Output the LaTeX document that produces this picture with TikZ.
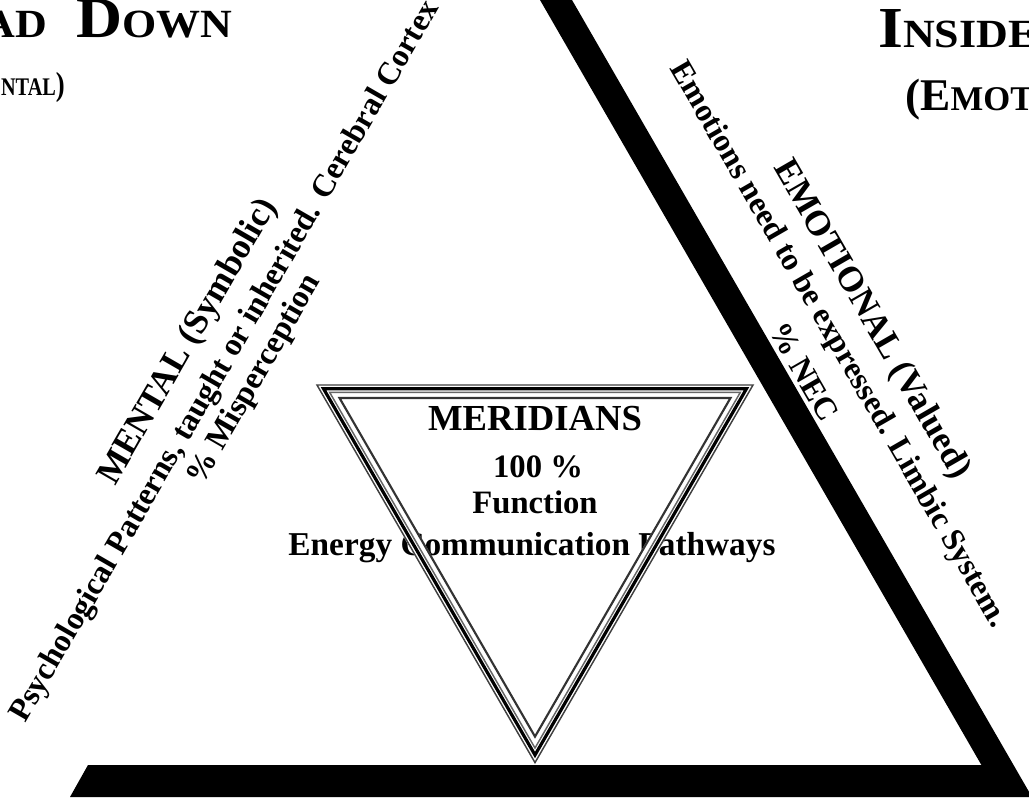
\documentclass[tikz,border=0pt]{standalone}
\usepackage{fontspec}
\setmainfont{Liberation Serif}
\newcommand\myfs[1]{\fontsize{#1}{#1}\selectfont}
\begin{document}
\begin{tikzpicture}[x=0.75pt,y=-0.75pt,
  lbl/.style={inner sep=0pt, font=\bfseries},
  ttl/.style={inner sep=0pt, font=\bfseries\myfs{30}},
  ttltwo/.style={inner sep=0pt, font=\bfseries\myfs{26}},
  big/.style={font=\bfseries\myfs{26.5}},
  small/.style={font=\bfseries\myfs{24}},
  mer/.style={inner sep=0pt, anchor=base, font=\bfseries\myfs{24.5}}]
\useasboundingbox (0,0) rectangle (1029,800);
\fill[white] (0,0) rectangle (1029,800);

% titles
\node[ttl, anchor=base east, xscale=1.1] (head) at (233,37) {{\myfs{43.5}H}EAD\hspace{20pt}{\myfs{43.5}D}OWN};
\node[inner sep=0pt, font=\bfseries\myfs{19}, anchor=base east, xscale=0.8] (mentalt) at (65,95) {{\myfs{25}(M}ENTAL{\myfs{25})}};
\node[ttl, anchor=base west, xscale=1.1] (inside) at (878,47) {{\myfs{43.5}I}NSIDE};
\node[ttltwo, anchor=base west] (emot) at (905,110) {{\myfs{34}(E}MOTIONAL{\myfs{34})}};

% left rotated texts
\node[lbl, big, rotate=60] (l1) at (189,342) {MENTAL (Symbolic)};
\node[lbl, small, rotate=60] (l2) at (226,362) {Psychological Patterns, taught or inherited. Cerebral Cortex};
\node[lbl, small, rotate=60] (l3) at (255,380) {\% Misperception};

% right rotated texts
\node[lbl, big, rotate=-60] (r1) at (871,320) {EMOTIONAL (Valued)};
\node[lbl, small, rotate=-60] (r2) at (838,345) {Emotions need to be expressed. Limbic System.};
\node[lbl, small, rotate=-60] (r3) at (804,372) {\% NEC};

% centre texts
\node[mer, font=\bfseries\myfs{27.5}] (meridians) at (535,430) {MERIDIANS};
\node[mer] (pct) at (538,477) {100 \%};
\node[mer] (function) at (535,513) {Function};
\node[mer, font=\bfseries\myfs{25}] (energy) at (532,555) {Energy Communication Pathways};

% outer black band and bar
\fill[black] (88,765) -- (981.4,765) -- (522.7,-30) -- (554.7,-30) -- (1032,797) -- (70,797) -- cycle;

% inner triangle (layered lines)
\draw[white, line width=11pt, line join=miter] ({317+1.732*6.5},{385+6.5}) -- ({753-1.732*6.5},{385+6.5}) -- (535,{762.6-13}) -- cycle;
\foreach \d/\w/\c in {0/1.1pt/black!75, 3.8/2.4pt/black, 7.3/1.1pt/black!60, 13/1.6pt/black!80} {
  \draw[line width=\w, draw=\c, line join=miter] ({317+1.732*\d},{385+\d}) -- ({753-1.732*\d},{385+\d}) -- (535,{762.6-2*\d}) -- cycle;
}
\end{tikzpicture}
\end{document}
